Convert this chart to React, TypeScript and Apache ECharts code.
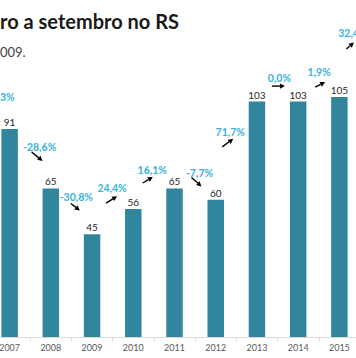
import React, { useEffect, useRef } from "react";
import * as echarts from "echarts";

// ---- data ----
const years = ["2007", "2008", "2009", "2010", "2011", "2012", "2013", "2014", "2015"];
const values = [91, 65, 45, 56, 65, 60, 103, 103, 105];
// change from year i to year i+1 (last one: 2015 -> 2016, partly cut off)
const changes = ["-28,6%", "-30,8%", "24,4%", "16,1%", "-7,7%", "71,7%", "0,0%", "1,9%", "32,4%"];
const titleText = "ro a setembro no RS";
const subtitleText = "009.";
const leftCutLabel = "3%";

// ---- layout ----
// the chart canvas starts a little left of the visible page (the reference is a crop)
const CANVAS_SHIFT = 11;
// annotation layout (pixel offsets from the top of bar i)
const labelOffsets: number[][] = [
  [30, 18], [25.5, 9], [20, -46], [19, -39], [25, -15], [14.5, -68], [22.5, -23.5], [21, -29.5], [13.5, -64],
];
const arrowOffsets: number[][] = [
  [22, 23, 33, 32],
  [20, 15, 29, 22],
  [14, -31, 25, -38],
  [9.5, -26, 19.5, -32],
  [17, -11, 27, -2],
  [6.5, -53, 17.5, -61],
  [15, -15.5, 28, -15.5],
  [17, -14.5, 27, -19.5],
  [7, -48, 14.5, -54.5],
];

const FONT = "Lato, 'Open Sans', sans-serif";
const PCT_COLOR = "#38b2dc";

export default function App() {
  const ref = useRef<HTMLDivElement>(null);
  useEffect(() => {
    if (!ref.current) return;
    const chart = echarts.init(ref.current, undefined, { renderer: "svg" });
    chart.setOption({
      animation: false,
      backgroundColor: "#ffffff",
      grid: { left: 0, right: 0, top: 17, bottom: 21, containLabel: false },
      xAxis: {
        type: "category",
        data: years,
        boundaryGap: true,
        axisLine: { lineStyle: { color: "#d9d9d9", width: 1 } },
        axisTick: { show: true, length: 4, lineStyle: { color: "#d9d9d9" } },
        axisLabel: { fontSize: 9, color: "#595959", margin: 6, fontFamily: FONT },
      },
      yAxis: {
        type: "value",
        min: 0,
        max: 140,
        show: false,
        splitLine: { show: false },
      },
      graphic: [
        {
          type: "text",
          x: CANVAS_SHIFT,
          y: 21,
          style: {
            text: titleText,
            fill: "#1a1a1a",
            fontSize: 20,
            fontWeight: "bold",
            fontFamily: FONT,
            align: "left",
            verticalAlign: "middle",
          },
        },
        {
          type: "text",
          x: CANVAS_SHIFT,
          y: 52,
          style: {
            text: subtitleText,
            fill: "#404040",
            fontSize: 13,
            fontFamily: FONT,
            align: "left",
            verticalAlign: "middle",
          },
        },
        {
          type: "text",
          x: CANVAS_SHIFT,
          y: 97,
          style: {
            text: leftCutLabel,
            fill: PCT_COLOR,
            fontSize: 10.5,
            fontWeight: "bold",
            fontFamily: FONT,
            align: "left",
            verticalAlign: "middle",
          },
        },
      ],
      series: [
        {
          type: "bar",
          data: values,
          barWidth: "40%",
          itemStyle: { color: "#31859C" },
          label: {
            show: true,
            position: "top",
            distance: 2,
            fontSize: 10,
            color: "#262626",
            fontFamily: FONT,
          },
        },
        {
          type: "custom",
          silent: true,
          clip: false,
          z: 5,
          data: values.map((v, i) => [i, v]),
          renderItem: (params: any, api: any) => {
            const i = params.dataIndex;
            const p = api.coord([i, values[i]]);
            const lo = labelOffsets[i];
            const ao = arrowOffsets[i];
            const x1 = p[0] + ao[0];
            const y1 = p[1] + ao[1];
            const x2 = p[0] + ao[2];
            const y2 = p[1] + ao[3];
            const dx = x2 - x1;
            const dy = y2 - y1;
            const len = Math.sqrt(dx * dx + dy * dy) || 1;
            const ux = dx / len;
            const uy = dy / len;
            const hl = 5;
            const hw = 2.6;
            const bx = x2 - ux * hl;
            const by = y2 - uy * hl;
            return {
              type: "group",
              children: [
                {
                  type: "text",
                  x: p[0] + lo[0],
                  y: p[1] + lo[1],
                  style: {
                    text: changes[i],
                    fill: PCT_COLOR,
                    fontSize: 10.5,
                    fontWeight: "bold",
                    fontFamily: FONT,
                    align: "center",
                    verticalAlign: "middle",
                  },
                },
                {
                  type: "line",
                  shape: { x1, y1, x2: bx, y2: by },
                  style: { stroke: "#000000", lineWidth: 1.4 },
                },
                {
                  type: "polygon",
                  shape: {
                    points: [
                      [x2, y2],
                      [bx - uy * hw, by + ux * hw],
                      [bx + uy * hw, by - ux * hw],
                    ],
                  },
                  style: { fill: "#000000" },
                },
              ],
            };
          },
        },
      ],
    });
    return () => chart.dispose();
  }, []);
  return (
    <div
      ref={ref}
      style={{ position: "fixed", left: -CANVAS_SHIFT, top: 0, width: 356 + CANVAS_SHIFT + 4, height: 358 }}
    />
  );
}
